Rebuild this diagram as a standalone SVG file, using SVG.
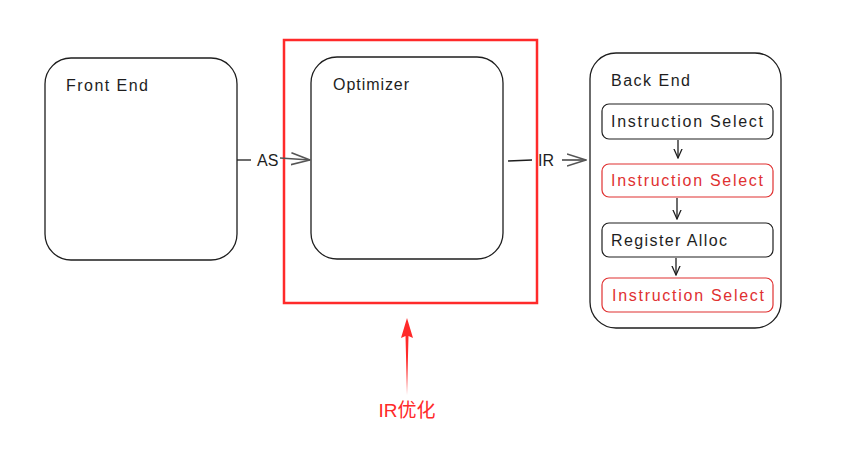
<svg xmlns="http://www.w3.org/2000/svg" width="851" height="452" viewBox="0 0 851 452">
<defs>
<style>
.box{fill:#fff;stroke:#1e1e1e;stroke-width:1.3}
.inner{fill:#fff;stroke:#1e1e1e;stroke-width:1.2}
.innerRed{fill:#fff;stroke:#e03131;stroke-width:1.2}
.t{font-family:"Liberation Sans",sans-serif;font-size:16px;fill:#1e1e1e}
.tr{font-family:"Liberation Sans",sans-serif;font-size:16px;fill:#e03131}
.line{stroke:#1e1e1e;stroke-width:1.3;fill:none}
</style>
<marker id="ah" viewBox="0 0 10 10" refX="9" refY="5" markerWidth="8" markerHeight="8" orient="auto">
<path d="M0,1 L9,5 L0,9" fill="none" stroke="#1e1e1e" stroke-width="1.2"/>
</marker>
<marker id="ahBig" viewBox="0 0 20 14" refX="19" refY="7" markerWidth="20" markerHeight="14" markerUnits="userSpaceOnUse" orient="auto">
<path d="M0,1 L19,7 L0,13" fill="none" stroke="#555" stroke-width="1.6"/>
</marker>
</defs>
<rect width="851" height="452" fill="#fff"/>

<g id="front-end">
<rect class="box" x="45" y="58" width="192" height="202" rx="26"/>
<text class="t" x="66" y="91" textLength="82" lengthAdjust="spacing">Front End</text>
</g>

<g id="optimizer">
<rect class="box" x="311" y="57" width="192" height="202" rx="26"/>
<text class="t" x="333" y="90" textLength="76" lengthAdjust="spacing">Optimizer</text>
</g>

<g id="ir-highlight">
<rect x="284" y="40" width="253" height="263" fill="none" stroke="#ff2a2a" stroke-width="2.5"/>
</g>

<g id="back-end">
<rect class="box" x="590" y="53" width="191" height="275" rx="26"/>
<text class="t" x="611" y="86" textLength="79" lengthAdjust="spacing">Back End</text>
</g>

<g id="is1">
<rect class="inner" x="602" y="104" width="171" height="35" rx="7"/>
<text class="t" x="611" y="127" textLength="152" lengthAdjust="spacing">Instruction Select</text>
</g>
<g id="is2">
<rect class="innerRed" x="602" y="164" width="171" height="33" rx="7"/>
<text class="tr" x="611" y="186" textLength="152" lengthAdjust="spacing">Instruction Select</text>
</g>
<g id="ra">
<rect class="inner" x="602" y="223" width="171" height="34" rx="7"/>
<text class="t" x="611" y="246" textLength="116" lengthAdjust="spacing">Register Alloc</text>
</g>
<g id="is3">
<rect class="innerRed" x="602" y="278" width="171" height="34" rx="7"/>
<text class="tr" x="612" y="301" textLength="152" lengthAdjust="spacing">Instruction Select</text>
</g>

<g id="connectors">
<line class="line" x1="237" y1="160" x2="251" y2="160"/>
<text class="t" x="257" y="166">AS</text>
<line x1="280" y1="158" x2="310" y2="160" stroke="#555" stroke-width="1.3" marker-end="url(#ahBig)"/>
<line class="line" x1="508" y1="161" x2="532" y2="160"/>
<text class="t" x="538" y="166">IR</text>
<line x1="562" y1="160" x2="586" y2="160" stroke="#1e1e1e" stroke-width="1.3" marker-end="url(#ahBig)"/>
<line class="line" x1="678" y1="140" x2="678" y2="158" marker-end="url(#ah)"/>
<line class="line" x1="677" y1="198" x2="677" y2="219" marker-end="url(#ah)"/>
<line class="line" x1="676" y1="258" x2="676" y2="275" marker-end="url(#ah)"/>
<path d="M407,395 L405.5,336 L401,338 L407,318 L413,338 L408.5,336 Z" fill="#ff2a2a"/>
</g>

<g id="label-ir-opt">
<text x="407" y="417" text-anchor="middle" font-family="'Liberation Sans','Noto Sans CJK SC',sans-serif" font-size="19" fill="#ff2a2a">IR优化</text>
</g>
</svg>
